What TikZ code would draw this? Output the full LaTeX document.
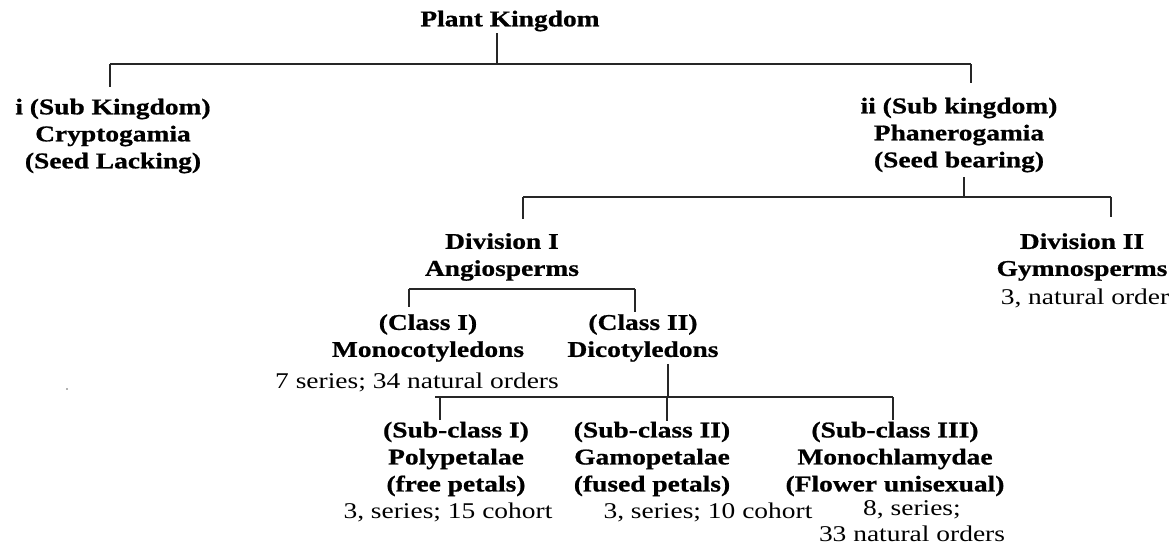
\documentclass[tikz,border=0pt]{standalone}
\usepackage{fontspec}
\setmainfont{Liberation Serif}[FakeStretch=1.22, BoldFeatures={FakeBold=0.8}]
\usetikzlibrary{positioning}

\tikzset{
  head/.style={font=\fontsize{22.5}{27}\selectfont\bfseries, align=center, inner sep=0pt},
  note/.style={font=\fontsize{22.5}{27}\selectfont, align=center, inner sep=0pt},
  link/.style={line width=1.4pt, black!85},
}

\begin{document}
\begin{tikzpicture}[x=1pt, y=-1pt]
  \useasboundingbox (0,0) rectangle (1173,549);

  % --- noeuds ------------------------------------------------------------
  \node[head] (plant)   at (510,21)  {Plant Kingdom};
  \node[head] (crypto)  at (113,136) {i (Sub Kingdom)\\Cryptogamia\\(Seed Lacking)};
  \node[head] (phanero) at (959,135) {ii (Sub kingdom)\\Phanerogamia\\(Seed bearing)};

  \node[head] (angio)   at (502,257) {Division I\\Angiosperms};
  \node[head] (gymno)   at (1082,257) {Division II\\Gymnosperms};
  \node[note] (gymnoinfo) at (1085,298) {3, natural order};

  \node[head] (mono)    at (428,338) {(Class I)\\Monocotyledons};
  \node[note] (monoinfo) at (417,382) {7 series; 34 natural orders};
  \node[head] (dicot)   at (643,338) {(Class II)\\Dicotyledons};

  \node[head] (poly)    at (456,459) {(Sub-class I)\\Polypetalae\\(free petals)};
  \node[note] (polyinfo) at (448,512) {3, series; 15 cohort};
  \node[head] (gamo)    at (652,459) {(Sub-class II)\\Gamopetalae\\(fused petals)};
  \node[note] (gamoinfo) at (708,512) {3, series; 10 cohort};
  \node[head] (monochl) at (895,459) {(Sub-class III)\\Monochlamydae\\(Flower unisexual)};
  \node[note, font=\fontsize{22.5}{26}\selectfont] (monochlinfo) at (912,521)
       {8, series;\\33 natural orders};

  % --- points des barres -------------------------------------------------
  \coordinate (kbus) at (497,64);
  \coordinate (kl) at (110,64);
  \coordinate (kr) at (971,64);
  \coordinate (pbus) at (964,197);
  \coordinate (pl) at (523,197);
  \coordinate (pr) at (1111,197);
  \coordinate (al) at (409,289);
  \coordinate (ar) at (635,289);
  \coordinate (dbus) at (668,397);
  \coordinate (dl) at (440,397);
  \coordinate (dm) at (667,397);
  \coordinate (dr) at (893,397);

  % --- royaume -----------------------------------------------------------
  \draw[link, shorten <=2pt] (plant.south -| kbus) -- (kbus);
  \draw[link] (kl) -- (kr);
  \draw[link, shorten >=12pt] (kl) -- (kl |- crypto.north);
  \draw[link, shorten >=15pt] (kr) -- (kr |- phanero.north);

  % --- divisions ---------------------------------------------------------
  \draw[link, shorten <=5pt] (phanero.south -| pbus) -- (pbus);
  \draw[link] (pl) -- (pr);
  \draw[link, shorten >=14pt] (pl) -- (pl |- angio.north);
  \draw[link, shorten >=16pt] (pr) -- (pr |- gymno.north);

  % --- classes -----------------------------------------------------------
  \draw[link] (al) -- (ar);
  \draw[link, shorten >=7pt] (al) -- (al |- mono.north);
  \draw[link, shorten >=2pt] (ar) -- (ar |- dicot.north);

  % --- sous-classes ------------------------------------------------------
  \draw[link, shorten <=2pt] (dicot.south -| dbus) -- (dbus);
  \draw[link] ([xshift=-5pt]dl) -- (dr);
  \draw[link, shorten >=2pt] (dl) -- (dl |- poly.north);
  \draw[link, shorten >=0.5pt] (dm) -- (dm |- gamo.north);
  \draw[link, shorten >=2pt] (dr) -- (dr |- monochl.north);

  % --- point isole -------------------------------------------------------
  \fill[black!60] (67,389) circle (0.9);
\end{tikzpicture}
\end{document}
